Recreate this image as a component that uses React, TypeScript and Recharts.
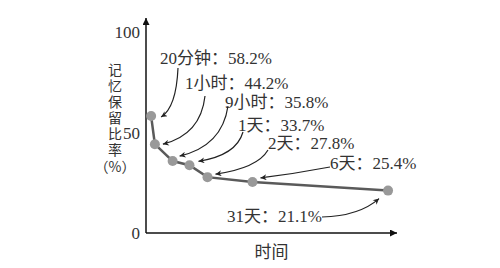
import { LineChart, Line, XAxis, YAxis, LabelList } from "recharts";

// Ebbinghaus forgetting curve
const timeLabels = ["20分钟", "1小时", "9小时", "1天", "2天", "6天", "31天"];
const minutes = [20, 60, 540, 1440, 2880, 8640, 44640];
const retention = [58.2, 44.2, 35.8, 33.7, 27.8, 25.4, 21.1];
const yTicks = [0, 50, 100];
const yLabel = "记忆保留比率";
const yUnit = "（%）";
const xLabel = "时间";

const data = minutes.map((m, i) => ({
  minutes: m,
  retention: retention[i],
  label: `${timeLabels[i]}：${retention[i]}%`,
}));

// annotation layout (text left/baseline, arrow start, arrow end offset from the dot, curve bend)
const annotText = [[160, 64], [185, 89], [225, 108], [238, 131], [268, 149], [330, 169], [227, 222]];
const arrowStart = [[178, 68], [205, 96], [228, 106], [243, 132], [268, 150], [330, 167], [322, 217]];
const arrowEndOffset = [[10, 1], [8, 0], [7, -5], [9, -4], [8, -3], [8, -4], [-9, 8]];
const arrowBend = [[0.1, 0.8], [0.1, 0.8], [0.12, 0.8], [0.15, 0.8], [0.2, 0.75], [0.5, 0.6], [0.65, 0.05]];

const serif = '"Liberation Serif", "Noto Sans CJK SC", serif';
const cjk = '"Noto Sans CJK SC", sans-serif';

const Annotation = (props: any) => {
  const { x, y, value } = props;
  const i = data.findIndex((d) => d.label === value);
  if (i < 0 || x == null || y == null) return null;
  const [tx, ty] = annotText[i];
  const [sx, sy] = arrowStart[i];
  const ex = x + arrowEndOffset[i][0];
  const ey = y + arrowEndOffset[i][1];
  const cx = sx + (ex - sx) * arrowBend[i][0];
  const cy = sy + (ey - sy) * arrowBend[i][1];
  return (
    <g>
      <text x={tx} y={ty} fontSize={17} fontFamily={serif} fill="#333">
        {value}
      </text>
      <path
        d={`M${sx},${sy} Q${cx},${cy} ${ex},${ey}`}
        fill="none"
        stroke="#222"
        strokeWidth={1.2}
        markerEnd="url(#annArrow)"
      />
    </g>
  );
};

const YLabel = () => (
  <g>
    <text
      x={115}
      y={63}
      fontSize={14}
      letterSpacing={2}
      fontFamily={cjk}
      fill="#333"
      style={{ writingMode: "vertical-rl" }}
    >
      {yLabel}
    </text>
    <text x={115} y={172} textAnchor="middle" fontSize={14} fontFamily={cjk} fill="#333">
      {yUnit}
    </text>
  </g>
);

export default function App() {
  return (
    <div style={{ position: "absolute", left: 0, top: 0, width: 500, height: 268, background: "#fff" }}>
      <svg width={0} height={0} style={{ position: "absolute" }}>
        <defs>
          <marker id="axisArrow" viewBox="0 0 10 10" refX={10} refY={5} markerUnits="userSpaceOnUse"
            markerWidth={10} markerHeight={7} orient="auto-start-reverse">
            <path d="M0,0 L10,5 L0,10 z" fill="#111" />
          </marker>
          <marker id="annArrow" viewBox="0 0 10 10" refX={10} refY={5} markerUnits="userSpaceOnUse"
            markerWidth={9} markerHeight={6} orient="auto">
            <path d="M0,0 L10,5 L0,10 L3,5 z" fill="#222" />
          </marker>
        </defs>
      </svg>
      <LineChart width={500} height={268} data={data} margin={{ top: 18, right: 103, bottom: 25, left: 106 }}>
        <XAxis
          dataKey="minutes"
          type="number"
          scale="sqrt"
          domain={[0, 48000]}
          tick={false}
          tickLine={false}
          height={10}
          axisLine={{ stroke: "#111", strokeWidth: 1.5, markerEnd: "url(#axisArrow)" }}
          label={{ value: xLabel, position: "bottom", offset: 3, fontSize: 17, fontFamily: cjk, fill: "#333" }}
        />
        <YAxis
          type="number"
          domain={[0, 107]}
          ticks={yTicks}
          width={40}
          tickLine={false}
          tickSize={0}
          tickMargin={6}
          tick={{ fontSize: 17, fontFamily: serif, fill: "#333" }}
          axisLine={{ stroke: "#111", strokeWidth: 1.5, markerStart: "url(#axisArrow)" }}
          label={{ content: <YLabel /> }}
        />
        <Line
          dataKey="retention"
          stroke="#5a5a5a"
          strokeWidth={2.5}
          dot={{ r: 5, fill: "#999", stroke: "#999", strokeWidth: 0 }}
          isAnimationActive={false}
        >
          <LabelList dataKey="label" content={<Annotation />} />
        </Line>
      </LineChart>
    </div>
  );
}
